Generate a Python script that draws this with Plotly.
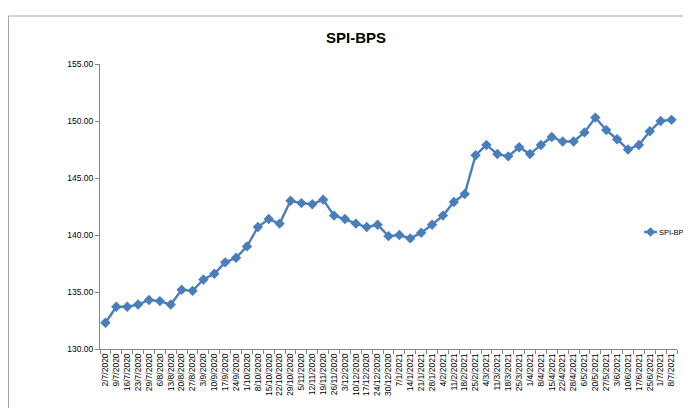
import plotly.graph_objects as go

dates = ["2/7/2020", "9/7/2020", "16/7/2020", "23/7/2020", "29/7/2020", "6/8/2020",
         "13/8/2020", "20/8/2020", "27/8/2020", "3/9/2020", "10/9/2020", "17/9/2020",
         "24/9/2020", "1/10/2020", "8/10/2020", "15/10/2020", "22/10/2020", "29/10/2020",
         "5/11/2020", "12/11/2020", "19/11/2020", "26/11/2020", "3/12/2020", "10/12/2020",
         "17/12/2020", "24/12/2020", "30/12/2020", "7/1/2021", "14/1/2021", "21/1/2021",
         "28/1/2021", "4/2/2021", "11/2/2021", "18/2/2021", "25/2/2021", "4/3/2021",
         "11/3/2021", "18/3/2021", "25/3/2021", "1/4/2021", "8/4/2021", "15/4/2021",
         "22/4/2021", "28/4/2021", "6/5/2021", "20/5/2021", "27/5/2021", "3/6/2021",
         "10/6/2021", "17/6/2021", "25/6/2021", "1/7/2021", "8/7/2021"]

spi_bps = [132.3, 133.7, 133.7, 133.9, 134.3, 134.2, 133.9, 135.2, 135.1, 136.1,
           136.6, 137.6, 138.0, 139.0, 140.7, 141.4, 141.0, 143.0, 142.8, 142.7,
           143.1, 141.7, 141.4, 141.0, 140.7, 140.9, 139.9, 140.0, 139.7, 140.2,
           140.9, 141.7, 142.9, 143.6, 147.0, 147.9, 147.1, 146.9, 147.7, 147.1,
           147.9, 148.6, 148.2, 148.2, 149.0, 150.3, 149.2, 148.4, 147.5, 147.9,
           149.1, 150.0, 150.1]

y_ticks = [130, 135, 140, 145, 150, 155]
series_name = "SPI-BPS"

font_fam = "Liberation Sans Narrow, Liberation Sans, Arial, sans-serif"
line_col = "#4A7EBB"
axis_col = "#868686"

L, T = 92, 56
PW, PH = 577, 285


def px_x(x):
    return (x - L) / PW


def px_y(y):
    return (T + PH - y) / PH


fig = go.Figure()
fig.add_trace(go.Scatter(
    x=dates, y=spi_bps, mode="lines+markers", name=series_name,
    line=dict(color=line_col, width=2.4),
    marker=dict(symbol="diamond", size=8, color=line_col),
    hoverinfo="skip", showlegend=False,
))

# manual legend (line sample + diamond + label), placed like the original
leg_y = 224
lx0, lx1, lxc = 636, 649, 642.5
d = 4.2
diamond_path = "M {} {} L {} {} L {} {} L {} {} Z".format(
    px_x(lxc), px_y(leg_y - d), px_x(lxc + d), px_y(leg_y),
    px_x(lxc), px_y(leg_y + d), px_x(lxc - d), px_y(leg_y))

fig.update_layout(
    width=691, height=408,
    margin=dict(l=L, r=691 - L - PW, t=T, b=408 - T - PH),
    paper_bgcolor="white", plot_bgcolor="white",
    font=dict(family=font_fam, color="#000000"),
    title=dict(text="<b>SPI-BPS</b>", x=348 / 691, xanchor="center",
               y=1 - 30 / 408, yanchor="middle",
               font=dict(size=15, family=font_fam)),
    showlegend=False,
    xaxis=dict(
        type="category", tickangle=-90, tickfont=dict(size=8.5),
        tickmode="array", tickvals=dates, ticktext=dates,
        showline=True, linecolor=axis_col, linewidth=1,
        ticks="outside", ticklen=4, tickcolor=axis_col, tickson="boundaries",
        showgrid=False, zeroline=False, range=[-0.5, len(dates) - 0.5],
    ),
    yaxis=dict(
        range=[130, 155], tickvals=y_ticks, tickformat=".2f",
        tickfont=dict(size=8.5),
        showline=True, linecolor=axis_col, linewidth=1,
        ticks="outside", ticklen=4, tickcolor=axis_col,
        showgrid=False, zeroline=False,
    ),
    shapes=[
        dict(type="rect", xref="paper", yref="paper",
             x0=(0.5 - L) / PW, x1=1.3, y0=-0.5, y1=1 + (T - 8) / PH,
             line=dict(color="#A6A6A6", width=1), fillcolor="rgba(0,0,0,0)",
             layer="below"),
        dict(type="line", xref="paper", yref="paper",
             x0=px_x(lx0), x1=px_x(lx1), y0=px_y(leg_y), y1=px_y(leg_y),
             line=dict(color=line_col, width=2.4)),
        dict(type="path", xref="paper", yref="paper", path=diamond_path,
             line=dict(color=line_col, width=1), fillcolor=line_col),
    ],
    annotations=[dict(text=series_name, xref="paper", yref="paper",
                      x=px_x(649), y=px_y(leg_y), xanchor="left", yanchor="middle",
                      showarrow=False, font=dict(size=7.5, family=font_fam))],
)

fig.write_html("out.html")
